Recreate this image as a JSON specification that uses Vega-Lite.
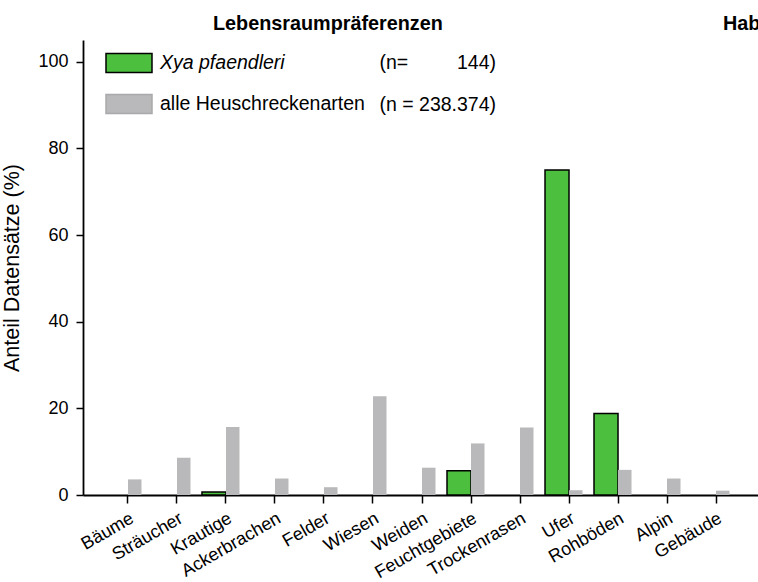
{
  "$schema": "https://vega.github.io/schema/vega-lite/v6.json",
  "autosize": "none",
  "padding": {"left": 83, "top": 40, "right": 0, "bottom": 87},
  "width": 678,
  "height": 455,
  "background": "white",
  "config": {"view": {"stroke": null}, "font": "Liberation Sans"},
  "title": {
    "text": "Lebensraumpräferenzen\u00a0\u00a0\u00a0\u00a0\u00a0\u00a0\u00a0\u00a0\u00a0\u00a0\u00a0\u00a0\u00a0\u00a0\u00a0\u00a0\u00a0\u00a0\u00a0\u00a0\u00a0\u00a0\u00a0\u00a0\u00a0\u00a0\u00a0\u00a0\u00a0\u00a0\u00a0\u00a0\u00a0\u00a0\u00a0\u00a0\u00a0\u00a0\u00a0\u00a0\u00a0\u00a0\u00a0\u00a0\u00a0\u00a0\u00a0\u00a0\u00a0\u00a0\u00a0Hab",
    "anchor": "start",
    "frame": "group",
    "dx": 130,
    "dy": 24,
    "fontSize": 19.8,
    "fontWeight": "bold",
    "font": "Liberation Sans",
    "color": "black",
    "baseline": "alphabetic",
    "offset": 13
  },
  "data": {
    "values": [
      {"cat": "Bäume", "series": "Xya pfaendleri", "value": 0, "n": "(n=\u00a0\u00a0\u00a0\u00a0\u00a0\u00a0\u00a0\u00a0\u00a0144)"},
      {"cat": "Sträucher", "series": "Xya pfaendleri", "value": 0, "n": "(n=\u00a0\u00a0\u00a0\u00a0\u00a0\u00a0\u00a0\u00a0\u00a0144)"},
      {"cat": "Krautige", "series": "Xya pfaendleri", "value": 0.7, "n": "(n=\u00a0\u00a0\u00a0\u00a0\u00a0\u00a0\u00a0\u00a0\u00a0144)"},
      {"cat": "Ackerbrachen", "series": "Xya pfaendleri", "value": 0, "n": "(n=\u00a0\u00a0\u00a0\u00a0\u00a0\u00a0\u00a0\u00a0\u00a0144)"},
      {"cat": "Felder", "series": "Xya pfaendleri", "value": 0, "n": "(n=\u00a0\u00a0\u00a0\u00a0\u00a0\u00a0\u00a0\u00a0\u00a0144)"},
      {"cat": "Wiesen", "series": "Xya pfaendleri", "value": 0, "n": "(n=\u00a0\u00a0\u00a0\u00a0\u00a0\u00a0\u00a0\u00a0\u00a0144)"},
      {"cat": "Weiden", "series": "Xya pfaendleri", "value": 0, "n": "(n=\u00a0\u00a0\u00a0\u00a0\u00a0\u00a0\u00a0\u00a0\u00a0144)"},
      {"cat": "Feuchtgebiete", "series": "Xya pfaendleri", "value": 5.6, "n": "(n=\u00a0\u00a0\u00a0\u00a0\u00a0\u00a0\u00a0\u00a0\u00a0144)"},
      {"cat": "Trockenrasen", "series": "Xya pfaendleri", "value": 0, "n": "(n=\u00a0\u00a0\u00a0\u00a0\u00a0\u00a0\u00a0\u00a0\u00a0144)"},
      {"cat": "Ufer", "series": "Xya pfaendleri", "value": 75, "n": "(n=\u00a0\u00a0\u00a0\u00a0\u00a0\u00a0\u00a0\u00a0\u00a0144)"},
      {"cat": "Rohböden", "series": "Xya pfaendleri", "value": 18.8, "n": "(n=\u00a0\u00a0\u00a0\u00a0\u00a0\u00a0\u00a0\u00a0\u00a0144)"},
      {"cat": "Alpin", "series": "Xya pfaendleri", "value": 0, "n": "(n=\u00a0\u00a0\u00a0\u00a0\u00a0\u00a0\u00a0\u00a0\u00a0144)"},
      {"cat": "Gebäude", "series": "Xya pfaendleri", "value": 0, "n": "(n=\u00a0\u00a0\u00a0\u00a0\u00a0\u00a0\u00a0\u00a0\u00a0144)"},
      {"cat": "Bäume", "series": "alle Heuschreckenarten", "value": 3.6, "n": "(n = 238.374)"},
      {"cat": "Sträucher", "series": "alle Heuschreckenarten", "value": 8.6, "n": "(n = 238.374)"},
      {"cat": "Krautige", "series": "alle Heuschreckenarten", "value": 15.7, "n": "(n = 238.374)"},
      {"cat": "Ackerbrachen", "series": "alle Heuschreckenarten", "value": 3.8, "n": "(n = 238.374)"},
      {"cat": "Felder", "series": "alle Heuschreckenarten", "value": 1.8, "n": "(n = 238.374)"},
      {"cat": "Wiesen", "series": "alle Heuschreckenarten", "value": 22.8, "n": "(n = 238.374)"},
      {"cat": "Weiden", "series": "alle Heuschreckenarten", "value": 6.3, "n": "(n = 238.374)"},
      {"cat": "Feuchtgebiete", "series": "alle Heuschreckenarten", "value": 11.9, "n": "(n = 238.374)"},
      {"cat": "Trockenrasen", "series": "alle Heuschreckenarten", "value": 15.6, "n": "(n = 238.374)"},
      {"cat": "Ufer", "series": "alle Heuschreckenarten", "value": 1.1, "n": "(n = 238.374)"},
      {"cat": "Rohböden", "series": "alle Heuschreckenarten", "value": 5.8, "n": "(n = 238.374)"},
      {"cat": "Alpin", "series": "alle Heuschreckenarten", "value": 3.8, "n": "(n = 238.374)"},
      {"cat": "Gebäude", "series": "alle Heuschreckenarten", "value": 1.0, "n": "(n = 238.374)"}
    ]
  },
  "encoding": {
    "x": {
      "field": "cat",
      "type": "nominal",
      "sort": ["Bäume", "Sträucher", "Krautige", "Ackerbrachen", "Felder", "Wiesen", "Weiden", "Feuchtgebiete", "Trockenrasen", "Ufer", "Rohböden", "Alpin", "Gebäude"],
      "scale": {"paddingInner": 0, "paddingOuter": 0.418},
      "axis": {
        "title": null,
        "labelAngle": -30,
        "labelAlign": "right",
        "labelBaseline": "top",
        "labelFontSize": 18,
        "labelColor": "black",
        "labelPadding": 6,
        "tickSize": 8,
        "tickColor": "black",
        "tickWidth": 1.5,
        "domainColor": "black",
        "domainWidth": 1.8,
        "grid": false
      }
    },
    "y": {
      "field": "value",
      "type": "quantitative",
      "scale": {"domain": [0, 105], "nice": false},
      "axis": {
        "values": [0, 20, 40, 60, 80, 100],
        "title": "Anteil Datensätze (%)",
        "titleFontSize": 21.5,
        "titleFontWeight": "normal",
        "titleColor": "black",
        "titlePadding": 14,
        "labelFontSize": 18,
        "labelColor": "black",
        "labelPadding": 8,
        "tickSize": 7,
        "tickColor": "black",
        "tickWidth": 1.5,
        "domainColor": "black",
        "domainWidth": 1.8,
        "grid": false
      }
    },
    "color": {
      "field": "series",
      "type": "nominal",
      "scale": {"domain": ["Xya pfaendleri", "alle Heuschreckenarten"], "range": ["#4dbf3f", "#b9b9bb"]},
      "legend": {
        "title": null,
        "orient": "none",
        "legendX": 22,
        "legendY": -1,
        "padding": 0,
        "symbolType": "M-1,-0.413H1V0.413H-1Z",
        "symbolSize": 2116,
        "labelFontSize": 19.5,
        "labelColor": "black",
        "labelOffset": 7,
        "labelLimit": 400,
        "rowPadding": 4,
        "encode": {
          "labels": {"update": {"fontStyle": {"signal": "datum.value === 'Xya pfaendleri' ? 'italic' : 'normal'"}}},
          "symbols": {"update": {
            "stroke": {"signal": "datum.value === 'Xya pfaendleri' ? 'black' : '#a9a9ab'"},
            "strokeWidth": {"value": 1.5}
          }}
        }
      }
    },
    "opacity": {
      "field": "n",
      "type": "nominal",
      "scale": {"domain": ["(n=\u00a0\u00a0\u00a0\u00a0\u00a0\u00a0\u00a0\u00a0\u00a0144)", "(n = 238.374)"], "range": [1, 1]},
      "legend": {
        "title": null,
        "orient": "none",
        "legendX": 277,
        "legendY": 13,
        "padding": 0,
        "symbolSize": 0,
        "labelFontSize": 19.5,
        "labelColor": "black",
        "labelOffset": 0,
        "labelLimit": 400,
        "rowPadding": 21,
        "encode": {
          "symbols": {"update": {"opacity": {"value": 0}}}
        }
      }
    }
  },
  "layer": [
    {
      "transform": [{"filter": "datum.series === 'Xya pfaendleri' && datum.value > 0"}],
      "mark": {"type": "bar", "width": 24, "xOffset": -12, "stroke": "black", "strokeWidth": 1.5}
    },
    {
      "transform": [{"filter": "datum.series !== 'Xya pfaendleri'"}],
      "mark": {"type": "bar", "width": 13.5, "xOffset": 6.75}
    }
  ]
}
